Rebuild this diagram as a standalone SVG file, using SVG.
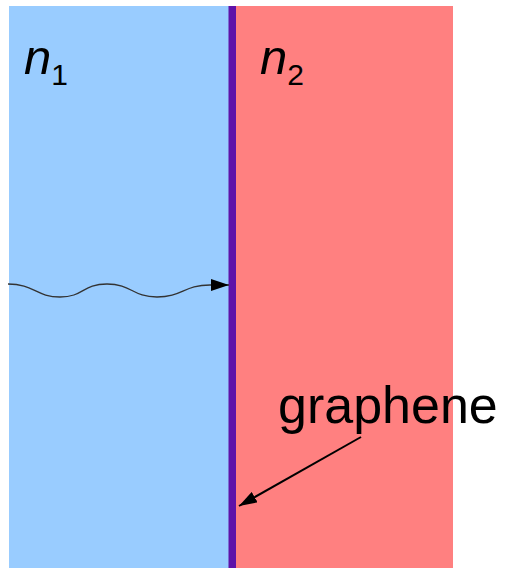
<svg xmlns="http://www.w3.org/2000/svg" width="505" height="568" viewBox="0 0 505 568">
<style>
.lbl{font-family:"Liberation Sans",Arial,sans-serif;fill:#000}
.it{font-style:italic}
</style>
<defs>
<marker id="ah2" viewBox="0 0 10 10" refX="10" refY="5" markerWidth="18" markerHeight="12" markerUnits="userSpaceOnUse" orient="auto" preserveAspectRatio="none"><path d="M0,0 L10,5 L0,10 z" fill="#000"/></marker>
</defs>
<g id="medium1"><rect x="9" y="6" width="220" height="562" fill="#99CCFF"/>
<text class="lbl" x="24" y="74" font-size="49"><tspan class="it">n</tspan><tspan font-size="30" dy="11">1</tspan></text></g>
<g id="medium2"><rect x="236" y="6" width="217" height="562" fill="#FF8080"/>
<text class="lbl" x="260" y="74" font-size="49"><tspan class="it">n</tspan><tspan font-size="30" dy="11">2</tspan></text></g>
<g id="graphene"><rect x="228.5" y="6" width="7.5" height="562" fill="#5F12A8"/>
<text class="lbl" x="278" y="423" font-size="52">graphene</text></g>
<g id="connectors">
<path d="M8,284 C34,284 36,297 60,297 C84,297 82,284 107,284 C132,284 132,297 157,297 C182,297 184,285 210,285 L229,285" fill="none" stroke="#333" stroke-width="1.3" marker-end="url(#ah2)"/>
<line x1="361" y1="437" x2="239" y2="506" stroke="#000" stroke-width="2" marker-end="url(#ah2)"/>
</g>
</svg>
